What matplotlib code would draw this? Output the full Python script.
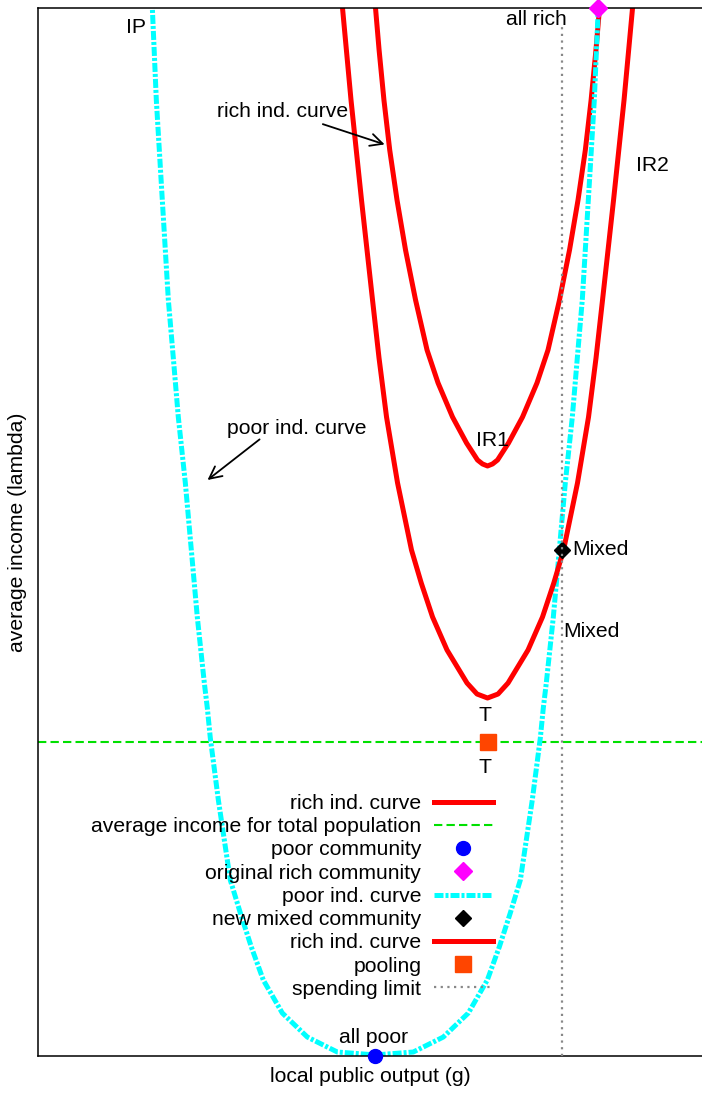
import numpy as np
import matplotlib
matplotlib.use("Agg")
import matplotlib.pyplot as plt

plt.rcParams['font.family'] = ['Liberation Sans', 'DejaVu Sans']

# poor indifference curve (symmetric about g = 5.08)
poor_center = 5.08
poor_lam = [0.10, 0.38, 1.81, 4.10, 7.25, 10.40, 13.65, 16.79, 24.43, 30.34, 33.21,
            35.59, 41.89, 48.28, 54.68, 60.97, 66.60, 72.14, 81.68, 91.22, 100.0, 103.6]
poor_half = [0.0, 0.572, 1.024, 1.401, 1.687, 1.867, 2.033, 2.184, 2.364, 2.485, 2.530,
             2.575, 2.681, 2.771, 2.861, 2.967, 3.042, 3.117, 3.208, 3.298, 3.358, 3.389]

# rich indifference curves (symmetric about g = 6.77)
rich_center = 6.77
ir1_lam = [56.30, 56.49, 56.87, 58.49, 60.97, 64.22, 67.37, 72.14, 76.91, 81.68,
           86.45, 91.22, 95.99, 100.0, 103.6]
ir1_half = [0.0, 0.075, 0.151, 0.316, 0.527, 0.745, 0.911, 1.084, 1.235, 1.363,
            1.473, 1.560, 1.633, 1.687, 1.730]
ir2_lam = [34.16, 34.54, 35.59, 38.74, 41.89, 45.13, 48.28, 54.68, 60.97, 66.60,
           72.14, 81.68, 91.22, 100.0, 103.6]
ir2_half = [0.0, 0.158, 0.309, 0.610, 0.828, 0.998, 1.145, 1.355, 1.521, 1.634,
            1.732, 1.898, 2.056, 2.184, 2.230]

avg_income = 30.0
spending_limit = 7.89
poor_comm = (5.08, 0.0)
rich_comm = (8.43, 100.0)
mixed_comm = (7.89, 48.3)
pooling = (6.77, 30.0)


def branch(center, lam, half):
    lam = np.array(lam)
    half = np.array(half)
    x = np.concatenate([center - half[::-1], center + half[1:]])
    y = np.concatenate([lam[::-1], lam[1:]])
    return x, y


fig = plt.figure(figsize=(7.02, 10.97), dpi=100)
ax = fig.add_axes([38 / 702, 41 / 1097, 664 / 702, 1048 / 1097])
ax.set_xlim(0, 10)
ax.set_ylim(0, 100)
ax.set_xticks([])
ax.set_yticks([])
ax.spines['right'].set_visible(False)
for s in ['left', 'top', 'bottom']:
    ax.spines[s].set_linewidth(1.1)

fs = 15.2

x, y = branch(rich_center, ir1_lam, ir1_half)
ax.plot(x, y, color='#ff0000', lw=3.6, solid_joinstyle='round', label='rich ind. curve')
ax.axhline(avg_income, color='#00e000', lw=1.5, ls=(0, (4, 2)),
           label='average income for total population')
ax.plot(*poor_comm, 'o', color='#0000ff', ms=10, clip_on=False, zorder=5,
        label='poor community')
ax.plot(*rich_comm, 'D', color='#ff00ff', ms=9, clip_on=False, zorder=5,
        label='original rich community')
x, y = branch(poor_center, poor_lam, poor_half)
ax.plot(x, y, color='#00ffff', lw=3.6, ls=(0, (1.8, 0.4, 0.6, 0.4)),
        label='poor ind. curve')
ax.plot(*mixed_comm, 'D', color='black', ms=8, zorder=5,
        label='new mixed community')
x, y = branch(rich_center, ir2_lam, ir2_half)
ax.plot(x, y, color='#ff0000', lw=3.6, solid_joinstyle='round', label='rich ind. curve')
ax.plot(*pooling, 's', color='#ff4500', ms=12, zorder=5, label='pooling')
ax.plot([spending_limit, spending_limit], [0, 98.2], color='#888888', lw=1.6,
        ls=(0, (1, 2)), zorder=6, label='spending limit')

# labels
ax.text(1.48, 98.1, 'IP', fontsize=fs, ha='center', va='center')
ax.text(7.5, 98.9, 'all rich', fontsize=fs, ha='center', va='center')
ax.text(9.26, 85.0, 'IR2', fontsize=fs, ha='center', va='center')
ax.text(6.84, 58.7, 'IR1', fontsize=fs, ha='center', va='center')
ax.text(8.04, 48.3, 'Mixed', fontsize=fs, ha='left', va='center')
ax.text(7.91, 40.55, 'Mixed', fontsize=fs, ha='left', va='center')
ax.text(6.73, 32.5, 'T', fontsize=fs, ha='center', va='center')
ax.text(6.73, 27.5, 'T', fontsize=fs, ha='center', va='center')
ax.text(5.05, 1.8, 'all poor', fontsize=fs, ha='center', va='center')

ax.text(3.68, 90.1, 'rich ind. curve', fontsize=fs, ha='center', va='center')
ax.annotate('', xy=(5.26, 86.9), xytext=(4.25, 89.0),
            arrowprops=dict(arrowstyle='->', lw=1.3, mutation_scale=22))
ax.text(3.89, 59.9, 'poor ind. curve', fontsize=fs, ha='center', va='center')
ax.annotate('', xy=(2.52, 54.8), xytext=(3.37, 59.0),
            arrowprops=dict(arrowstyle='->', lw=1.3, mutation_scale=22))

ax.set_xlabel('local public output (g)', fontsize=fs, labelpad=8)
ax.set_ylabel('average income (lambda)', fontsize=fs, labelpad=8)

ax.legend(loc='upper right', bbox_to_anchor=(493 / 702, 1 - 794 / 1097),
          bbox_transform=fig.transFigure, frameon=False, markerfirst=False,
          fontsize=fs, handlelength=2.8, handletextpad=0.6, labelspacing=0.2,
          borderpad=0, borderaxespad=0, numpoints=1)

fig.savefig('out.png', dpi=100)
